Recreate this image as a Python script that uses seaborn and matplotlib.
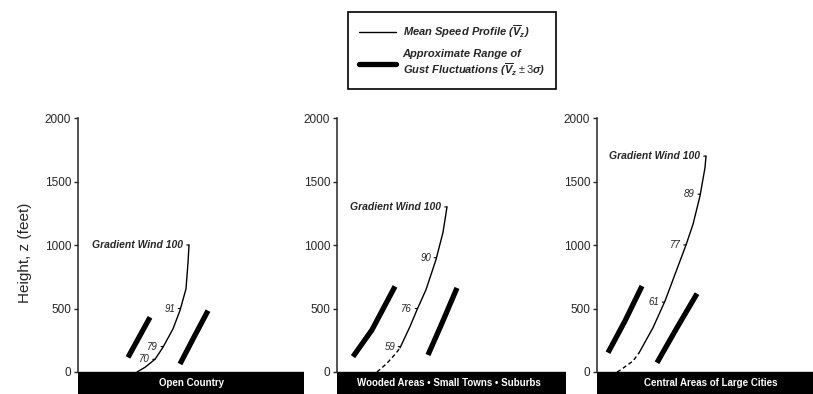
import numpy as np
import pandas as pd
import matplotlib.pyplot as plt
import seaborn as sns
from matplotlib.lines import Line2D

# --- data ---
# horizontal position of the profile is relative to each panel's axis (arbitrary units)
panels = ["Open Country", "Wooded Areas \u2022 Small Towns \u2022 Suburbs", "Central Areas of Large Cities"]

open_x = [59, 67, 77, 85, 95, 102, 108, 110, 111]
open_z = [0, 37, 100, 195, 340, 485, 655, 860, 1000]
open_left_x, open_left_z = [50, 61, 72], [115, 273, 431]
open_right_x, open_right_z = [102, 115, 130], [63, 260, 483]
open_lab_z = [100, 200, 500, 1000]
open_lab = ["70", "79", "91", "Gradient Wind 100"]

sub_x = [40, 50, 59, 63, 73, 80, 89, 99, 106, 110]
sub_z = [0, 69, 148, 190, 358, 490, 648, 885, 1100, 1300]
sub_left_x, sub_left_z = [16, 35, 58], [121, 332, 674]
sub_right_x, sub_right_z = [91, 105, 120], [134, 385, 662]
sub_lab_z = [200, 500, 900, 1300]
sub_lab = ["59", "76", "90", "Gradient Wind 100"]

city_x = [20, 23, 36, 42, 56, 68, 78, 89, 96, 103, 108, 109]
city_z = [0, 13, 87, 150, 349, 559, 769, 1000, 1163, 1386, 1609, 1700]
city_left_x, city_left_z = [11, 28, 45], [152, 402, 677]
city_right_x, city_right_z = [60, 80, 100], [73, 349, 617]
city_lab_z = [550, 1000, 1400, 1700]
city_lab = ["61", "77", "89", "Gradient Wind 100"]

dash_below = [0, 190, 150]   # profile is dashed below this height
yticks = [0, 500, 1000, 1500, 2000]

sns.set_style("ticks")
plt.rcParams["font.family"] = ["Liberation Sans", "DejaVu Sans"]
plt.rcParams["mathtext.fontset"] = "custom"
plt.rcParams["mathtext.rm"] = "Liberation Sans"
plt.rcParams["mathtext.it"] = "Liberation Sans:italic:bold"
plt.rcParams["mathtext.bf"] = "Liberation Sans:bold"

W, H = 813, 394
fig = plt.figure(figsize=(W / 100, H / 100), dpi=100)

# panel boxes in pixels: axis position, band end
lefts = [78, 337, 597]
rights = [304, 566, 813]
text_pos = [0.5, 0.49, 0.528]
scale = 0.127  # px per foot
ylo = -(394 - 372) / scale
yhi = 2000 + (372 - scale * 2000 - 110) / scale

curves = [(open_x, open_z), (sub_x, sub_z), (city_x, city_z)]
gusts = [[(open_left_x, open_left_z), (open_right_x, open_right_z)],
         [(sub_left_x, sub_left_z), (sub_right_x, sub_right_z)],
         [(city_left_x, city_left_z), (city_right_x, city_right_z)]]
labels = [(open_lab_z, open_lab), (sub_lab_z, sub_lab), (city_lab_z, city_lab)]

for i in range(3):
    L, R = lefts[i], rights[i]
    ax = fig.add_axes([L / W, 0, (R - L) / W, (394 - 110) / H])
    ax.set_xlim(0, R - L)
    ax.set_ylim(ylo, yhi)

    cx, cz = curves[i]
    df = pd.DataFrame({"x": cx, "z": cz})
    df["seg"] = np.where(df["z"] >= dash_below[i], "solid", "dashed")
    # share boundary point so the two pieces join
    edge = df[df["z"] == dash_below[i]].copy()
    edge["seg"] = "dashed"
    df = pd.concat([df[df["seg"] == "dashed"], edge, df[df["seg"] == "solid"]])
    df = df.drop_duplicates().reset_index(drop=True)
    sns.lineplot(data=df, x="x", y="z", style="seg", dashes={"solid": "", "dashed": (3, 2)},
                 color="black", lw=1.0, sort=False, estimator=None, legend=False, ax=ax)

    for gx, gz in gusts[i]:
        sns.lineplot(x=gx, y=gz, color="black", lw=3.8, sort=False, estimator=None,
                     legend=False, ax=ax, solid_capstyle="butt")

    lz, lt = labels[i]
    for z, t in zip(lz, lt):
        xc = np.interp(z, cz, cx)
        big = t.startswith("Gradient")
        ax.annotate(t, xy=(xc, z), xytext=(-4, 0), textcoords="offset points",
                    ha="right", va="center", fontsize=7.5 if big else 7,
                    style="italic", weight="bold" if big else "normal",
                    arrowprops=dict(arrowstyle="-", lw=0.8, shrinkA=0, shrinkB=0, color="black"))

    # black terrain band
    ax.axhspan(ylo, 0, color="black", zorder=0)
    ax.text(text_pos[i], ylo / 2, panels[i], transform=ax.get_yaxis_transform(),
            color="white", fontsize=7, weight="bold", ha="center", va="center", zorder=5)

    ax.set_yticks(yticks)
    ax.set_xticks([])
    ax.set_xlabel("")
    ax.set_ylabel("")
    ax.tick_params(axis="y", direction="out", length=3, width=1, labelsize=8.5, pad=2)
    for s in ["top", "right", "bottom"]:
        ax.spines[s].set_visible(False)
    ax.spines["left"].set_bounds(0, 2000)
    ax.spines["left"].set_linewidth(1.1)
    ax.patch.set_alpha(0)

fig.text(25 / W, 1 - 253 / H, "Height, z (feet)", rotation=90, ha="center", va="center", fontsize=11)

handles = [Line2D([], [], color="black", lw=1.0), Line2D([], [], color="black", lw=3.8)]
leg_labels = [r"Mean Speed Profile ($\overline{V}_z$)",
              "Approximate Range of\n" + r"Gust Fluctuations ($\overline{V}_z \pm 3\sigma$)"]
leg = fig.legend(handles, leg_labels, loc="upper center", bbox_to_anchor=(452 / W, 1 - 12 / H),
                 frameon=True, fancybox=False, edgecolor="black", framealpha=1,
                 handlelength=3.3, handletextpad=0.6, borderpad=1.0, borderaxespad=0,
                 labelspacing=0.8, prop={"size": 8, "style": "italic", "weight": "bold"})
leg.get_frame().set_linewidth(1.2)

fig.savefig("out.png", dpi=100)
